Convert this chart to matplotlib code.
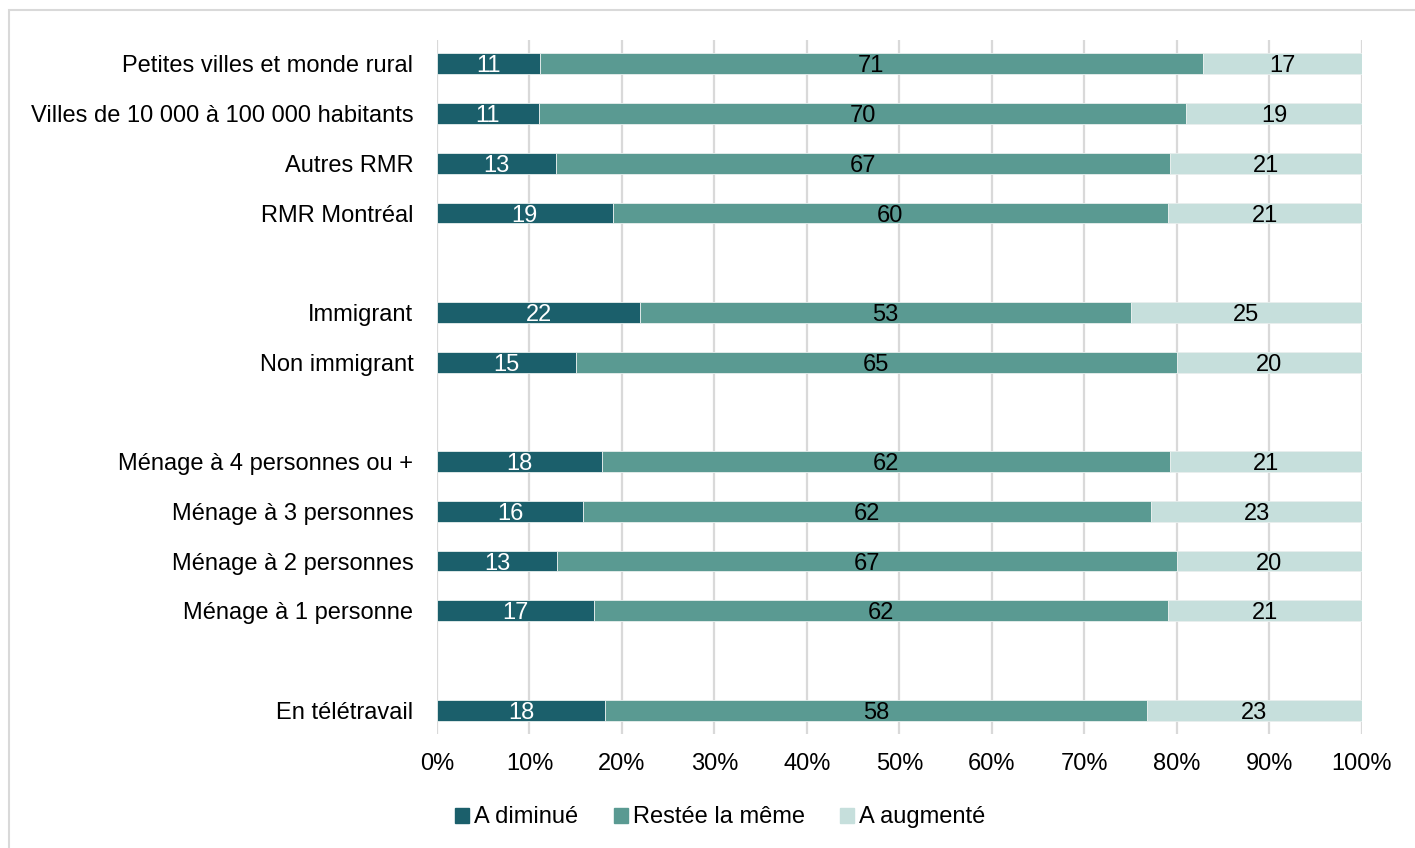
import matplotlib.pyplot as plt
import matplotlib.patches as mpatches
import numpy as np

plt.rcParams['font.family'] = ['Liberation Sans', 'DejaVu Sans']

# Rows top to bottom; empty strings are spacer rows between groups
categories = ['Petites villes et monde rural', 'Villes de 10 000 à 100 000 habitants',
              'Autres RMR', 'RMR Montréal', '',
              'Immigrant', 'Non immigrant', '',
              'Ménage à 4 personnes ou +', 'Ménage à 3 personnes',
              'Ménage à 2 personnes', 'Ménage à 1 personne', '',
              'En télétravail']
diminue = [11, 11, 13, 19, None, 22, 15, None, 18, 16, 13, 17, None, 18]
meme = [71, 70, 67, 60, None, 53, 65, None, 62, 62, 67, 62, None, 58]
augmente = [17, 19, 21, 21, None, 25, 20, None, 21, 23, 20, 21, None, 23]

series_names = ['A diminué', 'Restée la même', 'A augmenté']
colors = ['#1b5f6b', '#5a9a92', '#c6dfdc']
text_colors = ['white', 'black', 'black']
FS = 17

fig = plt.figure(figsize=(14.15, 8.48), dpi=100)
ax = fig.add_axes([0.3088, 0.1344, 0.6537, 0.8184])

# light frame around the chart area
fig.patches.append(mpatches.Rectangle((9 / 1415, -0.05), 1.1, 1 - 10 / 848 + 0.05,
                                      transform=fig.transFigure, fill=False,
                                      edgecolor='#d9d9d9', linewidth=1.5))

ypos = np.arange(len(categories))
for i, cat in enumerate(categories):
    if diminue[i] is None:
        continue
    vals = np.array([diminue[i], meme[i], augmente[i]], dtype=float)
    shares = vals / vals.sum() * 100
    left = 0.0
    for j in range(3):
        ax.barh(ypos[i], shares[j], left=left, height=0.42, color=colors[j],
                edgecolor='#e8efee', linewidth=0.6, zorder=3)
        ax.text(left + shares[j] / 2, ypos[i], f'{int(vals[j])}', ha='center',
                va='center_baseline', fontsize=FS, color=text_colors[j], zorder=4)
        left += shares[j]

ax.set_xlim(0, 100)
ax.set_ylim(len(categories) - 1 + 0.48, -0.48)
ax.set_yticks(ypos)
ax.set_yticklabels(categories, fontsize=FS)
ax.set_xticks(np.arange(0, 101, 10))
ax.set_xticklabels([f'{v}%' for v in range(0, 101, 10)], fontsize=FS)
ax.tick_params(axis='both', length=0)
ax.tick_params(axis='y', pad=17)
ax.tick_params(axis='x', pad=14)
ax.grid(axis='x', color='#d9d9d9', linewidth=1.6, zorder=0)
for s in ax.spines.values():
    s.set_visible(False)

handles = [mpatches.Patch(color=c, label=n) for c, n in zip(colors, series_names)]
fig.legend(handles=handles, loc='center', bbox_to_anchor=(0.509, 0.036), ncol=3,
           frameon=False, fontsize=FS, handlelength=0.6, handleheight=0.6,
           handletextpad=0.2, columnspacing=1.5)

fig.savefig('out.png', dpi=100)
